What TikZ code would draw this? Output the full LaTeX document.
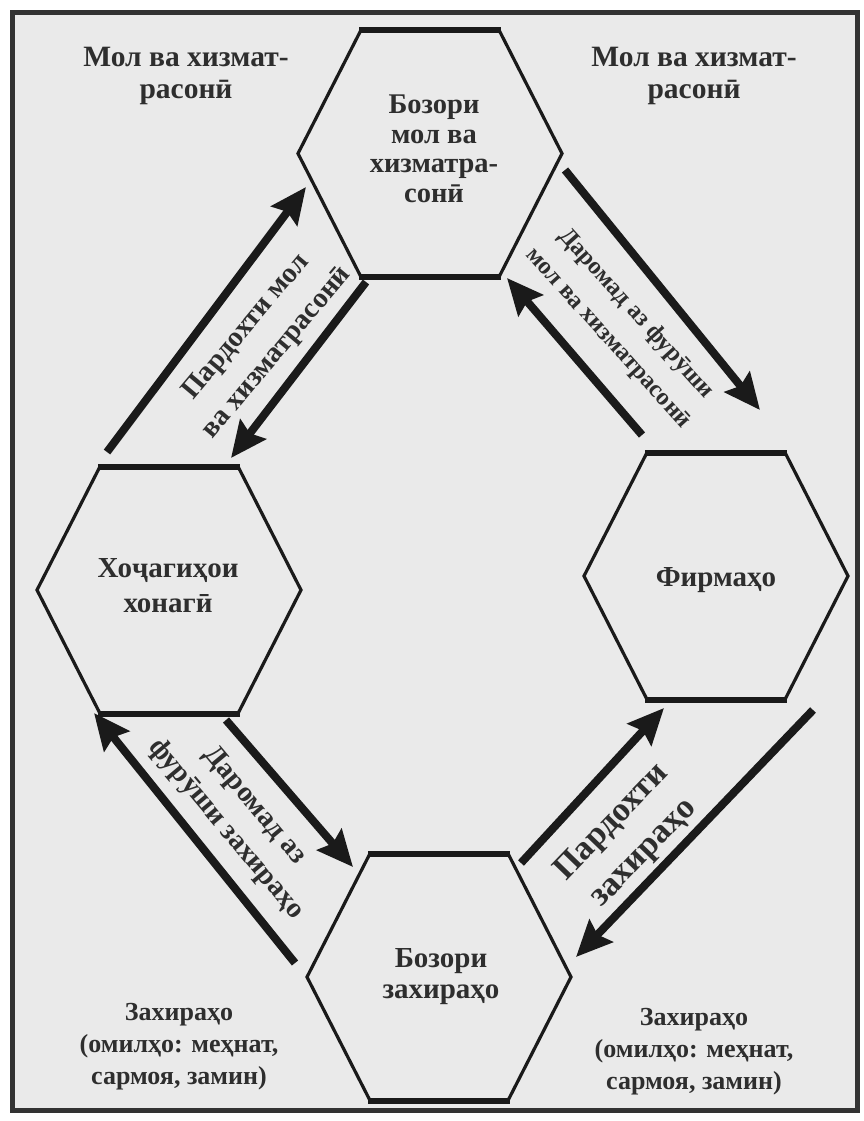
\documentclass[tikz,border=0pt]{standalone}
\usepackage{fontspec}
\setmainfont{Liberation Serif}
\usetikzlibrary{arrows.meta}
\definecolor{inkc}{HTML}{1A1A1A}
\definecolor{txtc}{HTML}{2E2E2E}
\definecolor{paperc}{HTML}{EAEAEA}
\tikzset{
  hexline/.style={draw=inkc, line width=3.2pt, line join=miter},
  hexflat/.style={draw=inkc, line width=6pt},
  bigarrow/.style={draw=inkc, line width=8pt,
    -{Stealth[length=36pt,width=32pt,inset=5pt]}},
  lbl/.style={text=txtc, align=center, inner sep=0pt},
}
\newcommand{\myhex}[1]{%
  \begin{scope}[shift={(#1)}]
    \draw[hexline] (-69,-123.5) -- (69,-123.5) -- (132,0) -- (69,123.5)
      -- (-69,123.5) -- (-132,0) -- cycle;
    \draw[hexflat] (-71,-123.5) -- (71,-123.5);
    \draw[hexflat] (-71,123.5) -- (71,123.5);
  \end{scope}}
\newcommand{\fsz}[2]{\bfseries\fontsize{#1}{#2}\selectfont}
\begin{document}
\begin{tikzpicture}[x=1pt,y=-1pt]
\useasboundingbox (0,0) rectangle (864,1121);
\fill[white] (0,0) rectangle (864,1121);
\draw[line width=5pt, draw=black!80, fill=paperc] (12,13) rectangle (857,1110);

% hexagon centres
\coordinate (hTop) at (430,153.5);
\coordinate (hLeft) at (169,590);
\coordinate (hRight) at (716,576);
\coordinate (hBot) at (439,977);
\myhex{hTop}
\myhex{hLeft}
\myhex{hRight}
\myhex{hBot}

% hexagon texts
\node[lbl, font=\fsz{28.5}{29.5}] (tTop) at (434,149) {Бозори\\мол ва\\хизматра-\\сонӣ};
\node[lbl, font=\fsz{29}{35}] (tLeft) at (168,586) {Хоҷагиҳои\\хонагӣ};
\node[lbl, font=\fsz{29}{30}] (tRight) at (716,580) {Фирмаҳо};
\node[lbl, font=\fsz{29}{31}] (tBot) at (441,977) {Бозори\\захираҳо};

% corner texts
\node[lbl, font=\fsz{29.5}{32}] (cTL) at (186,76) {Мол ва хизмат-\\расонӣ};
\node[lbl, font=\fsz{29.5}{32}] (cTR) at (694,76) {Мол ва хизмат-\\расонӣ};
\node[lbl, font=\fsz{26}{32}] (cBL) at (179,1047) {Захираҳо\\(омилҳо: меҳнат,\\сармоя, замин)};
\node[lbl, font=\fsz{26}{32}] (cBR) at (694,1052) {Захираҳо\\(омилҳо: меҳнат,\\сармоя, замин)};

% arrow end points
\coordinate (a1s) at (107,452); \coordinate (a1e) at (306,187);
\coordinate (a2s) at (366,282); \coordinate (a2e) at (231,458);
\coordinate (a3s) at (565,170); \coordinate (a3e) at (760,410);
\coordinate (a4s) at (642,435); \coordinate (a4e) at (507,278);
\coordinate (a5s) at (295,963); \coordinate (a5e) at (94,713);
\coordinate (a6s) at (226,720); \coordinate (a6e) at (353,867);
\coordinate (a7s) at (521,863); \coordinate (a7e) at (664,708);
\coordinate (a8s) at (813,710); \coordinate (a8e) at (576,957);
\draw[bigarrow] (a1s) -- (a1e);
\draw[bigarrow] (a2s) -- (a2e);
\draw[bigarrow] (a3s) -- (a3e);
\draw[bigarrow] (a4s) -- (a4e);
\draw[bigarrow] (a5s) -- (a5e);
\draw[bigarrow] (a6s) -- (a6e);
\draw[bigarrow] (a7s) -- (a7e);
\draw[bigarrow] (a8s) -- (a8e);

% arrow labels
\node[lbl, font=\fsz{28.5}{40}, rotate=50] (l1) at (262,340) {Пардохти мол\\ва хизматрасонӣ};
\node[lbl, font=\fsz{24.5}{37}, rotate=-48] (l2) at (622,326) {Даромад аз фурӯши\\мол ва хизматрасонӣ};
\node[lbl, font=\fsz{28.5}{37}, rotate=-50] (l3) at (240,818) {Даромад аз\\фурӯши захираҳо};
\node[lbl, font=\fsz{34}{44}, rotate=46] (l4) at (628,838) {Пардохти\\захираҳо};
\end{tikzpicture}
\end{document}
